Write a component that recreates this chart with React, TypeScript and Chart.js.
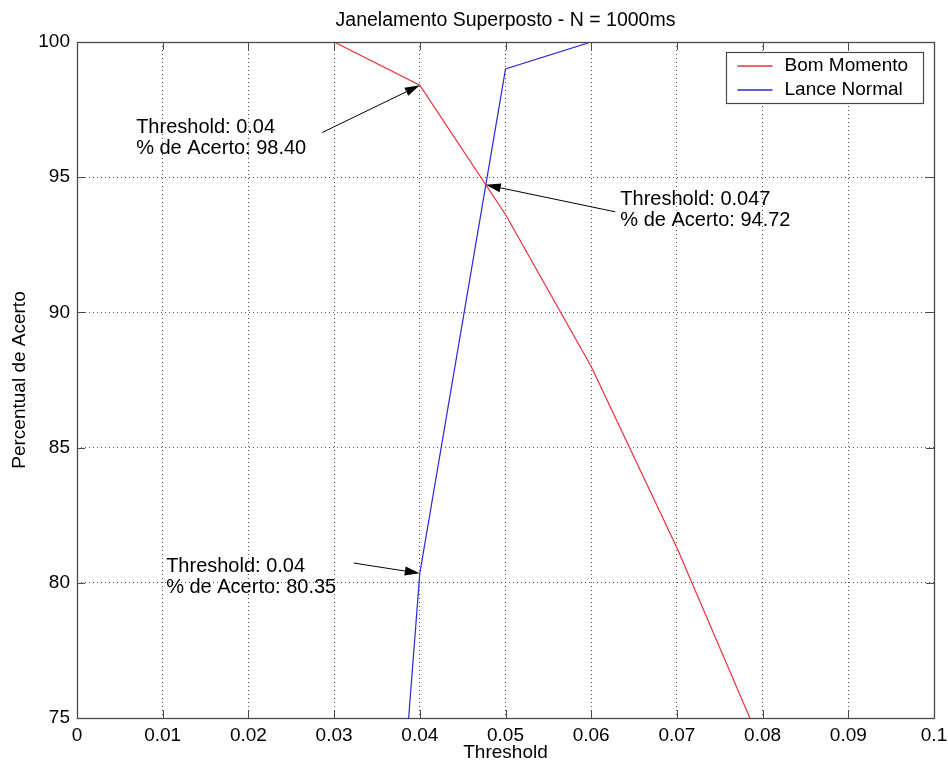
import { useEffect, useRef } from 'react';
import { Chart, registerables } from 'chart.js';

Chart.register(...registerables);

// Hit rate vs. detection threshold for the two classes
const THRESHOLDS_BOM = [0.03, 0.04, 0.05, 0.06, 0.07, 0.08];
const ACERTO_BOM = [100, 98.4, 93.62, 88.0, 81.3, 73.9];
const THRESHOLDS_LANCE = [0.03, 0.04, 0.05, 0.06];
const ACERTO_LANCE = [39.2, 80.35, 99.0, 100];
const SERIES_NAMES = ['Bom Momento', 'Lance Normal'];
const SERIES_COLORS = ['#e8303a', '#2a2ad8'];

const X_TICKS = [0, 0.01, 0.02, 0.03, 0.04, 0.05, 0.06, 0.07, 0.08, 0.09, 0.1];
const X_TICK_LABELS = ['0', '0.01', '0.02', '0.03', '0.04', '0.05', '0.06', '0.07', '0.08', '0.09', '0.1'];
const Y_TICKS = [75, 80, 85, 90, 95, 100];
const Y_TICK_LABELS = ['75', '80', '85', '90', '95', '100'];

const TITLE = 'Janelamento Superposto - N = 1000ms';
const X_TITLE = 'Threshold';
const Y_TITLE = 'Percentual de Acerto';

// Callouts: arrow tip on the curve, text block anchor and arrow tail (data units)
const CALLOUT_TEXT = [
  ['Threshold: 0.04', '% de Acerto: 98.40'],
  ['Threshold: 0.047', '% de Acerto: 94.72'],
  ['Threshold: 0.04', '% de Acerto: 80.35'],
];
const CALLOUT_TIP_X = [0.04, 0.0477, 0.04];
const CALLOUT_TIP_Y = [98.4, 94.72, 80.35];
const CALLOUT_TEXT_X = [0.0069, 0.0634, 0.0104];
const CALLOUT_TEXT_Y = [96.65, 93.97, 80.4];
const CALLOUT_TAIL_X = [0.0286, 0.0628, 0.0323];
const CALLOUT_TAIL_Y = [96.65, 93.72, 80.73];

const FONT = '"Liberation Sans", Arial, Helvetica, sans-serif';
const FRAME_COLOR = '#4a4a4a';

const matlabFrame = {
  id: 'matlabFrame',
  afterDraw(chart: any) {
    const { ctx, chartArea: a } = chart;
    const xs = chart.scales.x;
    const ys = chart.scales.y;
    ctx.save();

    // axes box
    ctx.strokeStyle = FRAME_COLOR;
    ctx.lineWidth = 1.3;
    ctx.setLineDash([]);
    ctx.strokeRect(Math.round(a.left) + 0.5, Math.round(a.top) + 0.5,
      Math.round(a.right - a.left), Math.round(a.bottom - a.top));

    // inward tick marks on all four sides
    const tl = 8;
    ctx.lineWidth = 1;
    ctx.beginPath();
    X_TICKS.forEach((v) => {
      const px = Math.round(xs.getPixelForValue(v)) + 0.5;
      ctx.moveTo(px, a.bottom); ctx.lineTo(px, a.bottom - tl);
      ctx.moveTo(px, a.top); ctx.lineTo(px, a.top + tl);
    });
    Y_TICKS.forEach((v) => {
      const py = Math.round(ys.getPixelForValue(v)) + 0.5;
      ctx.moveTo(a.left, py); ctx.lineTo(a.left + tl, py);
      ctx.moveTo(a.right, py); ctx.lineTo(a.right - tl, py);
    });
    ctx.stroke();

    // callouts
    ctx.fillStyle = '#000';
    ctx.strokeStyle = '#000';
    ctx.font = `20px ${FONT}`;
    ctx.textAlign = 'left';
    ctx.textBaseline = 'alphabetic';
    CALLOUT_TEXT.forEach((lines, i) => {
      const tx = xs.getPixelForValue(CALLOUT_TEXT_X[i]);
      const ty = ys.getPixelForValue(CALLOUT_TEXT_Y[i]);
      lines.forEach((s, k) => ctx.fillText(s, tx, ty + k * 21));
      const x0 = xs.getPixelForValue(CALLOUT_TAIL_X[i]);
      const y0 = ys.getPixelForValue(CALLOUT_TAIL_Y[i]);
      const x1 = xs.getPixelForValue(CALLOUT_TIP_X[i]);
      const y1 = ys.getPixelForValue(CALLOUT_TIP_Y[i]);
      const ang = Math.atan2(y1 - y0, x1 - x0);
      const hl = 15, hw = 4.5;
      const bx = x1 - hl * Math.cos(ang);
      const by = y1 - hl * Math.sin(ang);
      ctx.strokeStyle = '#000';
      ctx.lineWidth = 1;
      ctx.beginPath();
      ctx.moveTo(x0, y0);
      ctx.lineTo(bx, by);
      ctx.stroke();
      ctx.beginPath();
      ctx.moveTo(x1, y1);
      ctx.lineTo(bx - hw * Math.sin(ang), by + hw * Math.cos(ang));
      ctx.lineTo(bx + hw * Math.sin(ang), by - hw * Math.cos(ang));
      ctx.closePath();
      ctx.fill();
    });

    // legend box
    const lw = 197, lh = 51;
    const lx = Math.round(a.right - 11 - lw) + 0.5;
    const ly = Math.round(a.top + 10) + 0.5;
    ctx.fillStyle = '#fff';
    ctx.fillRect(lx, ly, lw, lh);
    ctx.strokeStyle = FRAME_COLOR;
    ctx.lineWidth = 1.2;
    ctx.strokeRect(lx, ly, lw, lh);
    ctx.font = `19px ${FONT}`;
    ctx.textBaseline = 'middle';
    SERIES_NAMES.forEach((name, i) => {
      const cy = ly + 13.5 + i * 24;
      ctx.strokeStyle = SERIES_COLORS[i];
      ctx.lineWidth = 1.4;
      ctx.beginPath();
      ctx.moveTo(lx + 11, cy);
      ctx.lineTo(lx + 46, cy);
      ctx.stroke();
      ctx.fillStyle = '#000';
      ctx.fillText(name, lx + 58, cy);
    });

    // title
    ctx.font = `19.5px ${FONT}`;
    ctx.textAlign = 'center';
    ctx.textBaseline = 'middle';
    ctx.fillStyle = '#000';
    ctx.fillText(TITLE, (a.left + a.right) / 2, 21);

    ctx.restore();
  },
};

export default function App() {
  const canvasRef = useRef<HTMLCanvasElement | null>(null);

  useEffect(() => {
    document.body.style.margin = '0';
    const canvas = canvasRef.current;
    if (!canvas) return;
    const chart = new Chart(canvas, {
      type: 'line',
      data: {
        datasets: [
          {
            label: SERIES_NAMES[0],
            data: THRESHOLDS_BOM.map((x, i) => ({ x, y: ACERTO_BOM[i] })),
            borderColor: SERIES_COLORS[0],
            borderWidth: 1.2,
            pointRadius: 0,
            tension: 0,
          },
          {
            label: SERIES_NAMES[1],
            data: THRESHOLDS_LANCE.map((x, i) => ({ x, y: ACERTO_LANCE[i] })),
            borderColor: SERIES_COLORS[1],
            borderWidth: 1.2,
            pointRadius: 0,
            tension: 0,
          },
        ],
      },
      options: {
        responsive: false,
        animation: false,
        devicePixelRatio: 1,
        layout: { padding: { top: 42, right: 14, left: 0, bottom: 0 } },
        plugins: {
          legend: { display: false },
          title: { display: false },
          tooltip: { enabled: false },
        },
        scales: {
          x: {
            type: 'linear',
            min: 0,
            max: 0.1,
            afterBuildTicks: (s: any) => { s.ticks = X_TICKS.map((value) => ({ value })); },
            afterFit: (s: any) => { s.height = 48; s.paddingLeft = 0; s.paddingRight = 0; },
            ticks: {
              autoSkip: false,
              maxRotation: 0,
              padding: 6,
              color: '#000',
              font: { family: FONT, size: 19 },
              callback: (_v: any, i: number) => X_TICK_LABELS[i],
            },
            grid: { color: '#555', lineWidth: 1, drawTicks: false },
            border: { display: false, dash: [1, 3] },
            title: {
              display: true,
              text: X_TITLE,
              color: '#000',
              font: { family: FONT, size: 19 },
              padding: { top: 0, bottom: 2 },
            },
          },
          y: {
            type: 'linear',
            min: 75,
            max: 100,
            afterBuildTicks: (s: any) => { s.ticks = Y_TICKS.map((value) => ({ value })); },
            afterFit: (s: any) => { s.width = 77; s.paddingTop = 0; s.paddingBottom = 0; },
            ticks: {
              autoSkip: false,
              padding: 7,
              color: '#000',
              font: { family: FONT, size: 19 },
              callback: (_v: any, i: number) => Y_TICK_LABELS[i],
            },
            grid: { color: '#555', lineWidth: 1, drawTicks: false },
            border: { display: false, dash: [1, 3] },
            title: {
              display: true,
              text: Y_TITLE,
              color: '#000',
              font: { family: FONT, size: 19 },
              padding: { top: 8, bottom: 0 },
            },
          },
        },
      },
      plugins: [matlabFrame],
    });
    return () => chart.destroy();
  }, []);

  return (
    <div style={{ width: 948, height: 766, background: '#fff' }}>
      <canvas ref={canvasRef} width={948} height={766} style={{ display: 'block' }} />
    </div>
  );
}
